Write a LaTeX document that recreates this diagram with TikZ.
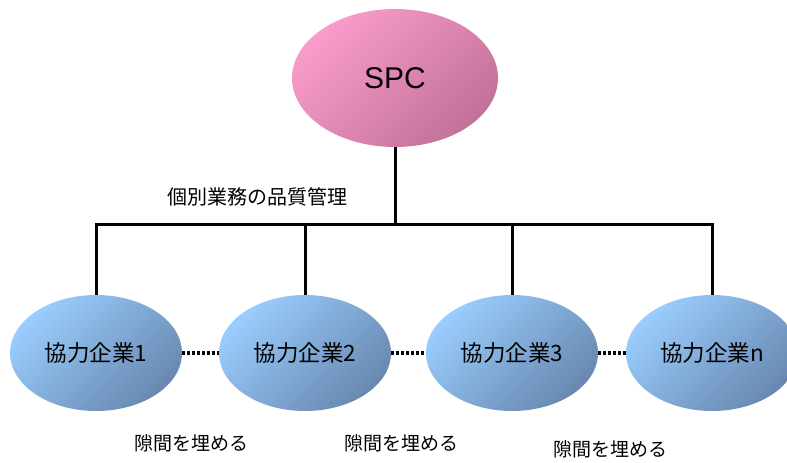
\documentclass[tikz,border=0pt]{standalone}
\usepackage{fontspec}
\setmainfont{Liberation Sans}
\newfontfamily\jp{Noto Sans CJK JP}
\usetikzlibrary{shapes.geometric}
\definecolor{pinkL}{HTML}{FA9CCB}
\definecolor{pinkD}{HTML}{C27299}
\definecolor{blueL}{HTML}{9ACDFD}
\definecolor{blueD}{HTML}{6888B0}
\begin{document}
\begin{tikzpicture}[x=1pt,y=-1pt,
  top/.style={ellipse,minimum width=206pt,minimum height=138pt,inner sep=0pt,
    top color=pinkL,bottom color=pinkD,shading angle=45,font=\fontsize{30}{32}\selectfont},
  firm/.style={ellipse,minimum width=172pt,minimum height=116pt,inner sep=0pt,
    top color=blueL,bottom color=blueD,shading angle=45,font=\jp\fontsize{22.5}{24}\selectfont},
  tree/.style={line width=3pt},
  gap/.style={line width=4pt,dash pattern=on 3pt off 2pt},
  lbl/.style={font=\jp\fontsize{19}{21}\selectfont,inner sep=0pt}]
\useasboundingbox (0,0) rectangle (787,463);
\begin{scope}
\clip (0,0) rectangle (787,463);
\node[top] (spc) at (395,78) {SPC};
\node[firm] (f1) at (96,353) {協力企業1};
\node[firm] (f2) at (305,353) {協力企業2};
\node[firm] (f3) at (512,353) {協力企業3};
\node[firm] (fn) at (712,353) {協力企業n};
\coordinate (j) at (395,224);
\coordinate (l) at (96,224);
\coordinate (r) at (712,224);
\draw[tree] (spc.south) -- (j);
\draw[tree,line cap=rect] (l) -- (r);
\draw[tree] (l) -- (f1.north);
\draw[tree] (305,224) -- (f2.north);
\draw[tree] (512,224) -- (f3.north);
\draw[tree] (r) -- (fn.north);
\draw[gap] (f1.east) -- (f2.west);
\draw[gap] (f2.east) -- (f3.west);
\draw[gap] (f3.east) -- (fn.west);
\node[lbl,font=\jp\fontsize{20}{22}\selectfont] (q) at (257,197) {個別業務の品質管理};
\node[lbl] (g1) at (191,443) {隙間を埋める};
\node[lbl] (g2) at (401,443) {隙間を埋める};
\node[lbl] (g3) at (610,449) {隙間を埋める};
\end{scope}
\end{tikzpicture}
\end{document}
